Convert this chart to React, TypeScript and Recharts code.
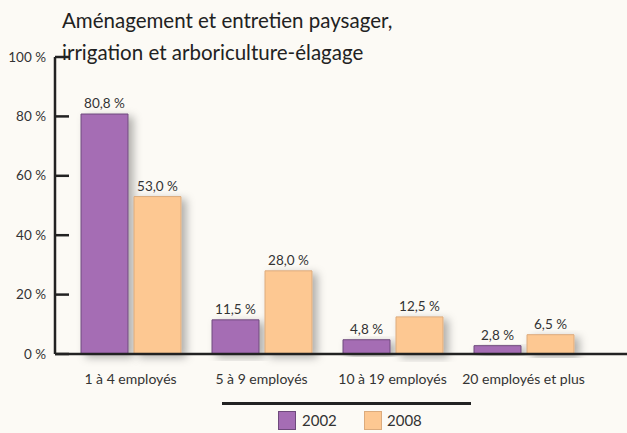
import { Bar, BarChart, LabelList, XAxis, YAxis } from "recharts";

// ── données ─────────────────────────────────────────────
const categories = ["1 à 4 employés", "5 à 9 employés", "10 à 19 employés", "20 employés et plus"];
const values2002 = [80.8, 11.5, 4.8, 2.8];
const values2008 = [53.0, 28.0, 12.5, 6.5];
const yTicks = [0, 20, 40, 60, 80, 100];
const seriesNames = ["2002", "2008"];

const PURPLE = "#a56db4";
const PURPLE_EDGE = "#6f4a7c";
const ORANGE = "#fdc892";
const ORANGE_EDGE = "#dcab7c";
const INK = "#222";
const FONT = "Lato, 'Open Sans', sans-serif";

const data = categories.map((c, i) => ({ name: c, a: values2002[i], b: values2008[i] }));

const fmt = (v: number) => `${v.toFixed(1).replace(".", ",")} %`;

function YTick({ x, y, payload }: any) {
	return (
		<g>
			<line x1={x} x2={x + 14} y1={y} y2={y} stroke={INK} strokeWidth={2.5} />
			<text x={x - 9} y={y} dy={4.5} textAnchor="end" fontSize={13.5} fill="#333" fontFamily={FONT}>
				{payload.value} %
			</text>
		</g>
	);
}

export default function App() {
	return (
		<div
			style={{
				position: "absolute",
				left: 0,
				top: 0,
				width: 627,
				height: 433,
				background: "#fcfaf5",
				fontFamily: FONT,
				overflow: "hidden",
			}}
		>
			{/* titre */}
			<div
				style={{
					position: "absolute",
					left: 62,
					top: 4,
					fontSize: 20.5,
					lineHeight: "32px",
					color: INK,
					whiteSpace: "nowrap",
				}}
			>
				Aménagement et entretien paysager,
				<br />
				irrigation et arboriculture-élagage
			</div>

			<BarChart
				width={627}
				height={433}
				data={data}
				margin={{ top: 57, right: 0, left: 0, bottom: 49 }}
				barSize={47}
				barGap={6}
				style={{ position: "absolute", left: 0, top: 0 }}
			>
				<defs>
					<filter id="barShadow" x="-20%" y="-20%" width="160%" height="140%">
						<feDropShadow dx={5} dy={3} stdDeviation={4} floodColor="#000" floodOpacity={0.3} />
					</filter>
				</defs>
				<XAxis
					dataKey="name"
					height={30}
					padding={{ left: 10, right: 38 }}
					axisLine={{ stroke: INK, strokeWidth: 2.5 }}
					tickLine={false}
					tickMargin={14}
					tick={{ fontSize: 14, fill: "#333", fontFamily: FONT }}
					interval={0}
				/>
				<YAxis
					type="number"
					domain={[0, 100]}
					ticks={yTicks}
					width={55}
					tickSize={0}
					tickMargin={0}
					axisLine={{ stroke: INK, strokeWidth: 2.5 }}
					tickLine={false}
					tick={<YTick />}
				/>
				<Bar
					dataKey="a"
					name={seriesNames[0]}
					fill={PURPLE}
					stroke={PURPLE_EDGE}
					strokeWidth={1}
					filter="url(#barShadow)"
					isAnimationActive={false}
				>
					<LabelList dataKey="a" position="top" offset={6} formatter={(v: any) => fmt(Number(v))} fontSize={13.5} fill="#333" fontFamily={FONT} />
				</Bar>
				<Bar
					dataKey="b"
					name={seriesNames[1]}
					fill={ORANGE}
					stroke={ORANGE_EDGE}
					strokeWidth={1}
					filter="url(#barShadow)"
					isAnimationActive={false}
				>
					<LabelList dataKey="b" position="top" offset={6} formatter={(v: any) => fmt(Number(v))} fontSize={13.5} fill="#333" fontFamily={FONT} />
				</Bar>
			</BarChart>

			{/* légende */}
			<div style={{ position: "absolute", left: 222, top: 402, width: 249, height: 2.5, background: INK }} />
			<div style={{ position: "absolute", left: 278, top: 411, width: 18, height: 19, background: PURPLE, border: `1px solid ${PURPLE_EDGE}`, boxSizing: "border-box" }} />
			<div style={{ position: "absolute", left: 302, top: 411, fontSize: 15, lineHeight: "19px", color: "#333" }}>{seriesNames[0]}</div>
			<div style={{ position: "absolute", left: 364, top: 411, width: 18, height: 19, background: ORANGE, border: `1px solid ${ORANGE_EDGE}`, boxSizing: "border-box" }} />
			<div style={{ position: "absolute", left: 387, top: 411, fontSize: 15, lineHeight: "19px", color: "#333" }}>{seriesNames[1]}</div>
		</div>
	);
}
